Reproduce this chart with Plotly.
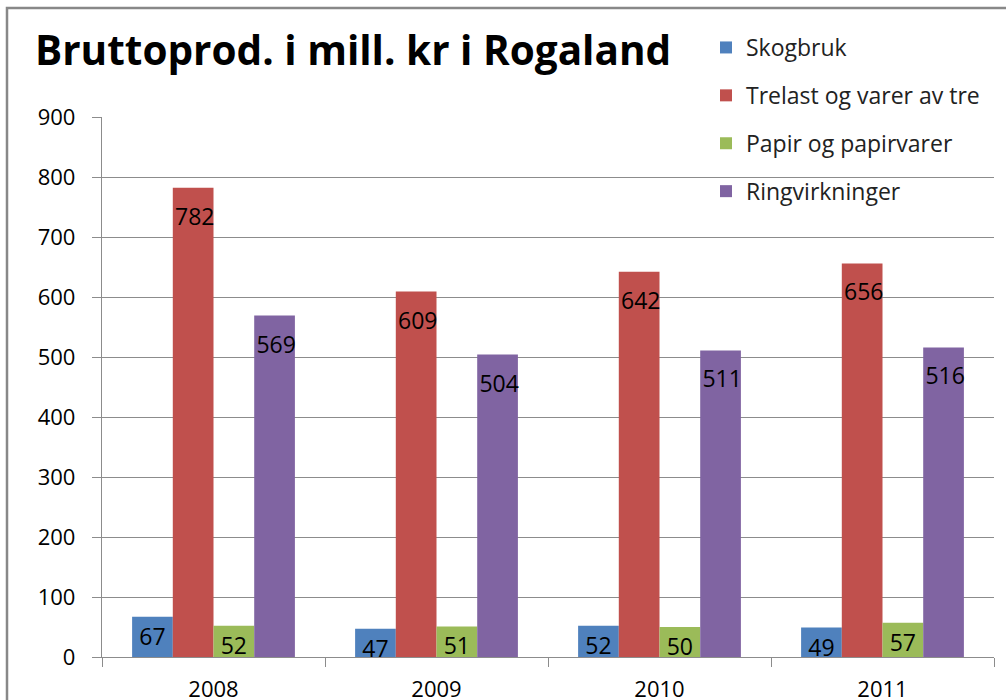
import plotly.graph_objects as go

years = ["2008", "2009", "2010", "2011"]
series_names = ["Skogbruk", "Trelast og varer av tre", "Papir og papirvarer", "Ringvirkninger"]
skogbruk = [67, 47, 52, 49]
trelast = [782, 609, 642, 656]
papir = [52, 51, 50, 57]
ringvirkninger = [569, 504, 511, 516]
colors = ["#4F81BD", "#C0504D", "#9BBB59", "#8064A2"]
y_ticks = [0, 100, 200, 300, 400, 500, 600, 700, 800, 900]

FONT = "Open Sans"
SPACER = "<span style='font-size:32px'>\u200a</span>"


def label(v):
    # tall bars get a little extra top padding, like the original labels
    return (SPACER + str(v)) if v > 150 else str(v)


fig = go.Figure()
for i, (name, vals) in enumerate(zip(series_names, [skogbruk, trelast, papir, ringvirkninger])):
    fig.add_trace(go.Bar(
        x=years, y=vals, name=name, marker=dict(color=colors[i], line=dict(width=0)),
        text=[label(v) for v in vals], textposition="inside", insidetextanchor="end",
        constraintext="none", textangle=0,
        textfont=dict(family=FONT, size=23, color="black"),
        legendgroup=name,
    ))

fig.update_layout(
    width=1006, height=700,
    margin=dict(l=102, r=12, t=117, b=43, autoexpand=False),
    paper_bgcolor="white", plot_bgcolor="white",
    barmode="group", bargap=0.27, bargroupgap=0,
    font=dict(family=FONT, size=22, color="black"),
    title=dict(text="<b>Bruttoprod. i mill. kr i Rogaland</b>", x=35/1006, xanchor="left",
               y=1 - 51/700, yanchor="middle",
               font=dict(family="Open Sans", size=40.5, color="black")),
    legend=dict(x=(706-102)/892, xanchor="left", y=1 + (117-26)/540, yanchor="top",
                bgcolor="rgba(0,0,0,0)", traceorder="grouped", tracegroupgap=15,
                font=dict(family=FONT, size=23, color="#222222")),
    showlegend=True,
)
fig.update_yaxes(range=[0, 900], tickvals=y_ticks, showgrid=True, gridcolor="#8C8C8C", gridwidth=1.3,
                 showline=True, linecolor="#8C8C8C", linewidth=1.3, ticks="outside", ticklen=9,
                 tickcolor="#8C8C8C", ticklabelstandoff=12, zeroline=False, automargin=False)
fig.update_xaxes(showline=True, linecolor="#8C8C8C", linewidth=1.3, ticks="outside", ticklen=9,
                 tickcolor="#8C8C8C", tickson="boundaries", ticklabelstandoff=12,
                 tickfont=dict(size=22), automargin=False)
fig.add_shape(type="rect", xref="paper", yref="paper",
              x0=(7-102)/892, x1=1.06, y0=-0.3, y1=(657-8)/540,
              line=dict(color="#888888", width=2.5), fillcolor="rgba(0,0,0,0)", layer="below")
fig.write_html("out.html", config={"displayModeBar": False},
               post_script="document.body.style.margin='0';document.body.style.overflow='hidden';")
